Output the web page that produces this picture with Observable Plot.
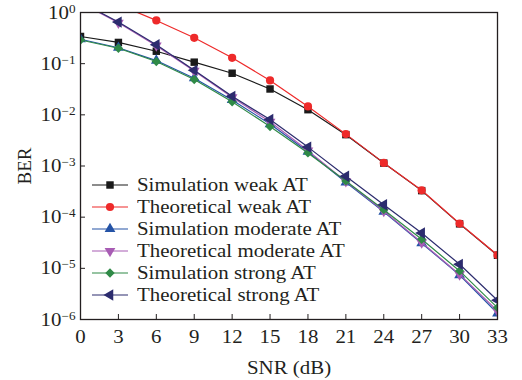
<!DOCTYPE html>
<html><head><meta charset="utf-8">
<script src="https://cdn.jsdelivr.net/npm/d3@7"></script>
<script src="https://cdn.jsdelivr.net/npm/@observablehq/plot@0.6"></script>
<style>
body{margin:0;background:#fff;}
#wrap{position:relative;width:522px;height:380px;font-family:"Liberation Serif","Times New Roman",serif;}
.row{position:absolute;left:92px;height:22px;display:flex;align-items:center;font-size:19px;color:#231f20;white-space:nowrap;}
.row span{display:inline-block;transform:scaleX(1.1);transform-origin:left center;margin-left:9px;}
</style></head><body><div id="wrap"></div>
<script>
// ---- data ----
const snr = [0, 3, 6, 9, 12, 15, 18, 21, 24, 27, 30, 33];
const simWeak      = [0.34, 0.26, 0.175, 0.107, 0.065, 0.032, 0.0126, 0.0041, 0.00114, 3.3e-4, 7.4e-5, 1.8e-5];
const theoWeak     = [3.0, 1.43, 0.70, 0.32, 0.13, 0.047, 0.0146, 0.0042, 0.00115, 3.35e-4, 7.5e-5, 1.82e-5];
const simModerate  = [0.30, 0.205, 0.115, 0.052, 0.0195, 0.0066, 0.0019, 4.8e-4, 1.28e-4, 3.1e-5, 7.4e-6, 1.32e-6];
const theoModerate = [1.55, 0.63, 0.225, 0.072, 0.022, 0.0073, 0.0020, 5.0e-4, 1.32e-4, 3.2e-5, 7.6e-6, 1.48e-6];
const simStrong    = [0.29, 0.20, 0.11, 0.049, 0.018, 0.0059, 0.0018, 5.1e-4, 1.4e-4, 3.7e-5, 8.9e-6, 1.7e-6];
const theoStrong   = [1.6, 0.65, 0.234, 0.074, 0.023, 0.0081, 0.00234, 6.3e-4, 1.75e-4, 4.9e-5, 1.2e-5, 2.37e-6];
const seriesNames = ["Simulation weak AT", "Theoretical weak AT", "Simulation moderate AT",
                     "Theoretical moderate AT", "Simulation strong AT", "Theoretical strong AT"];
const seriesValues = [simWeak, theoWeak, simModerate, theoModerate, simStrong, theoStrong];
const xTicks = [0, 3, 6, 9, 12, 15, 18, 21, 24, 27, 30, 33];
const yExponents = [0, -1, -2, -3, -4, -5, -6];

// ---- styles ----
const colors = ["#1a1a1a", "#ee2a2a", "#2453a6", "#a85cb4", "#2f8a47", "#2c2c6e"];
const triDown = {draw(ctx, size){const y=Math.sqrt(size/(Math.sqrt(3)*3));ctx.moveTo(0,2*y);ctx.lineTo(-Math.sqrt(3)*y,-y);ctx.lineTo(Math.sqrt(3)*y,-y);ctx.closePath();}};
const triLeft = {draw(ctx, size){const y=Math.sqrt(size/(Math.sqrt(3)*3));ctx.moveTo(-2*y,0);ctx.lineTo(y,-Math.sqrt(3)*y);ctx.lineTo(y,Math.sqrt(3)*y);ctx.closePath();}};
const symbols = [d3.symbolSquare, d3.symbolCircle, d3.symbolTriangle, triDown, d3.symbolDiamond2, triLeft];
const radii = [4.2, 4.1, 4, 4, 4.2, 4.2];

const rows = [];
seriesNames.forEach((name, i) => seriesValues[i].forEach((v, j) => rows.push({series: name, snr: snr[j], ber: v, i})));

const marks = [];
seriesNames.forEach((name, i) => {
  const d = rows.filter(r => r.i === i);
  marks.push(Plot.line(d, {x: "snr", y: "ber", stroke: colors[i], strokeWidth: 1.2, clip: true}));
  marks.push(Plot.dot(d, {x: "snr", y: "ber", fill: colors[i], symbol: symbols[i], r: radii[i], clip: true}));
});

const sup = e => (e < 0 ? "\u2212" + (-e) : String(e));
const plot = Plot.plot({
  width: 522, height: 380,
  marginLeft: 80, marginRight: 25, marginTop: 12, marginBottom: 61,
  style: {fontFamily: "'Liberation Serif', serif", fontSize: "19px", color: "#231f20", background: "white", overflow: "visible"},
  x: {domain: [0, 33]},
  y: {type: "log", domain: [1e-6, 1]},
  marks: [
    Plot.axisX(xTicks, {tickSize: -5, tickPadding: 15.5, label: "SNR (dB)", labelArrow: false, labelAnchor: "center", labelOffset: 54.5}),
    Plot.axisY(yExponents.map(e => Math.pow(10, e)), {tickSize: -5, tickPadding: 10,
      tickFormat: d => "10^" + sup(Math.round(Math.log10(d))), label: "BER", labelArrow: false, labelAnchor: "center", labelOffset: 63}),
    ...marks,
    Plot.frame({stroke: "#231f20", strokeWidth: 1.3})
  ]
});

// superscripts on y tick labels
d3.select(plot).selectAll('g[aria-label="y-axis tick label"] text').each(function(){
  const t = d3.select(this); const s = t.text(); const parts = s.split("^");
  if (parts.length !== 2) return;
  t.text("");
  t.append("tspan").text(parts[0]);
  t.append("tspan").attr("font-size", "12px").attr("dy", "-6").text(parts[1]);
});
// horizontal stretch of serif text to match the reference's glyph proportions
d3.select(plot).selectAll("text").each(function(){
  const tr = this.getAttribute("transform") || "";
  if (tr.includes("rotate")) return;
  const x = parseFloat(this.getAttribute("x")) || 0;
  this.setAttribute("transform", `${tr} translate(${x},0) scale(1.1,1) translate(${-x},0)`);
});

const wrap = document.getElementById("wrap");
wrap.appendChild(plot);

// legend
seriesNames.forEach((name, i) => {
  const row = document.createElement("div");
  row.className = "row";
  row.style.top = (174 + i * 22) + "px";
  const svg = d3.create("svg").attr("width", 36).attr("height", 22);
  svg.append("line").attr("x1", 0).attr("x2", 36).attr("y1", 11).attr("y2", 11).attr("stroke", colors[i]).attr("stroke-width", 1.2);
  svg.append("path").attr("transform", "translate(18,11)").attr("fill", colors[i])
     .attr("d", d3.symbol(symbols[i], Math.PI * radii[i] * radii[i])());
  row.appendChild(svg.node());
  const sp = document.createElement("span"); sp.textContent = name; row.appendChild(sp);
  wrap.appendChild(row);
});
</script></body></html>
